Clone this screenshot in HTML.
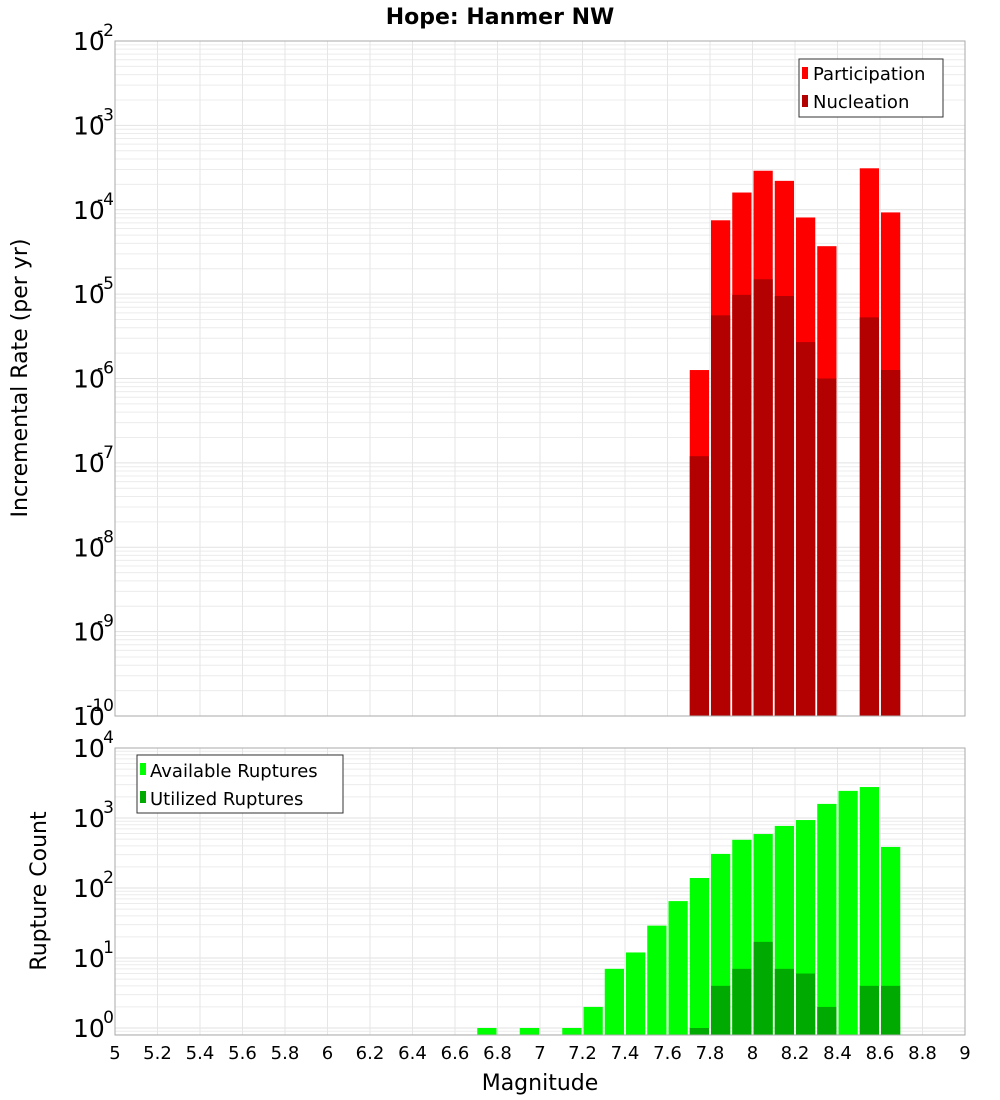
<!DOCTYPE html>
<html><head><meta charset="utf-8"><title>Hope: Hanmer NW</title>
<style>
html,body{margin:0;padding:0;background:#fff;}
svg{display:block;font-family:"DejaVu Sans","Liberation Sans",sans-serif;}
</style></head>
<body>
<svg id="chart" width="1000" height="1100" xmlns="http://www.w3.org/2000/svg">
<text x="500" y="24" text-anchor="middle" font-size="22" font-weight="bold">Hope: Hanmer NW</text>
<g id="top"></g>
<g id="bot"></g>
<text transform="translate(27,378) rotate(-90)" text-anchor="middle" font-size="22">Incremental Rate (per yr)</text>
<text transform="translate(46,891) rotate(-90)" text-anchor="middle" font-size="22">Rupture Count</text>
<text x="540" y="1090" text-anchor="middle" font-size="22">Magnitude</text>
<g>
<rect x="799" y="59" width="144" height="58" fill="#fff" stroke="#333" stroke-width="1"/>
<rect x="802" y="67" width="6" height="12" fill="#ff0000"/>
<text x="813" y="80" font-size="18">Participation</text>
<rect x="802" y="95" width="6" height="12" fill="#b30000"/>
<text x="813" y="108" font-size="18">Nucleation</text>
</g>
<g>
<rect x="137" y="755" width="206" height="58" fill="#fff" stroke="#333" stroke-width="1"/>
<rect x="140" y="763" width="6" height="12" fill="#00ff00"/>
<text x="150" y="777" font-size="18">Available Ruptures</text>
<rect x="140" y="791" width="6" height="12" fill="#00aa00"/>
<text x="150" y="805" font-size="18">Utilized Ruptures</text>
</g>
</svg>
<script>
// ---- data ----
const binCenters = [6.75,6.95,7.15,7.25,7.35,7.45,7.55,7.65,7.75,7.85,7.95,8.05,8.15,8.25,8.35,8.45,8.55,8.65];
const participation = [0,0,0,0,0,0,0,0,1.26e-6,7.5e-5,1.6e-4,2.9e-4,2.2e-4,8.1e-5,3.7e-5,0,3.1e-4,9.3e-5];
const nucleation =    [0,0,0,0,0,0,0,0,1.2e-7,5.6e-6,9.8e-6,1.5e-5,9.5e-6,2.7e-6,1.0e-6,0,5.3e-6,1.26e-6];
const available = [1,1,1,2,7,12,29,65,139,307,488,590,770,935,1590,2440,2770,386];
const utilized =  [0,0,0,0,0,0,0,0,1,4,7,17,7,6,2,0,4,4];
const xTicks = ["5","5.2","5.4","5.6","5.8","6","6.2","6.4","6.6","6.8","7","7.2","7.4","7.6","7.8","8","8.2","8.4","8.6","8.8","9"];
const topExps = [-2,-3,-4,-5,-6,-7,-8,-9,-10];
const botExps = [4,3,2,1,0];

const NS="http://www.w3.org/2000/svg";
const L=115,R=965;
function X(m){return L+(m-5)/4*(R-L);}
function mk(parent,tag,attrs){const e=document.createElementNS(NS,tag);for(const k in attrs)e.setAttribute(k,attrs[k]);parent.appendChild(e);return e;}

function plot(g,top,bottom,lmin,lmax,exps,series,colors,prefix){
  function Y(v){return bottom-(Math.log10(v)-lmin)/(lmax-lmin)*(bottom-top);}
  mk(g,'rect',{x:L,y:top,width:R-L,height:bottom-top,fill:'#fff'});
  // minor grid
  for(let d=Math.floor(lmin);d<lmax;d++){
    for(let k=1;k<10;k++){
      const lv=d+Math.log10(k); if(lv<lmin||lv>lmax)continue;
      const y=Y(Math.pow(10,lv));
      const ln=mk(g,'line',{x1:L,x2:R,y1:y,y2:y,stroke:k==1?'#e2e2e2':'#ececec','stroke-width':1});
      
      
    }
  }
  xTicks.forEach(t=>{const x=X(parseFloat(t));
    const ln=mk(g,'line',{x1:x,x2:x,y1:top,y2:bottom,stroke:'#e6e6e6','stroke-width':1});
    
    
  });
  // bars
  const w=(X(5.1)-X(5));
  binCenters.forEach((c,i)=>{
    series.forEach((s,j)=>{
      const v=s[i]; if(!(v>0))return;
      const y=Math.max(Y(v),top);
      const r=mk(g,'rect',{x:X(c)-w/2+1,y:y,width:w-2,height:bottom-y,fill:colors[j]});
      
      
    });
  });
  mk(g,'rect',{x:L,y:top,width:R-L,height:bottom-top,fill:'none',stroke:'#aaa','stroke-width':1});
  exps.forEach(e=>{
    const y=Y(Math.pow(10,e));
    const t=mk(g,'text',{x:73,y:y+9,'font-size':25});
    t.textContent='10';
    
    
    const s=mk(g,'text',{x:114,y:y-5,'font-size':17,'text-anchor':'end'});
    s.textContent=String(e);
    
    
  });
}
plot(document.getElementById('top'),41,716,-10,-2,topExps,[participation,nucleation],['#ff0000','#b30000'],['participation','nucleation']);
plot(document.getElementById('bot'),748,1035,-0.1,4,botExps,[available,utilized],['#00ff00','#00aa00'],['available','utilized']);
const svg=document.getElementById('chart');
xTicks.forEach(t=>{
  const e=mk(svg,'text',{x:X(parseFloat(t)),y:1059,'font-size':18,'text-anchor':'middle'});
  e.textContent=t;
  
  
});
</script>
</body></html>
